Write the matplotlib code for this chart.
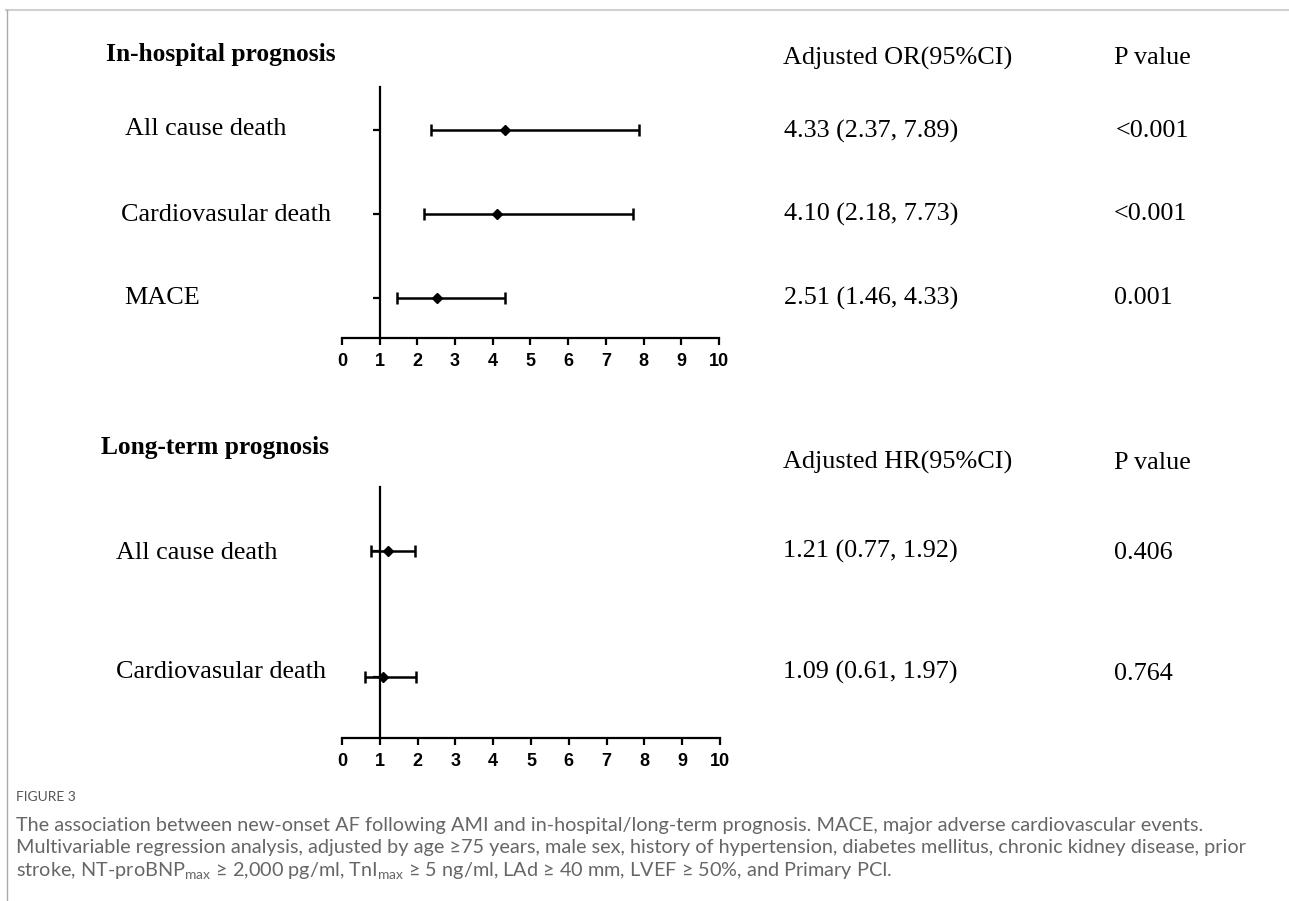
import matplotlib
matplotlib.use('Agg')
import matplotlib.pyplot as plt
from matplotlib.lines import Line2D

# in-hospital prognosis (adjusted OR)
hosp_labels = ['All cause death', 'Cardiovasular death', 'MACE']
hosp_or = [4.33, 4.10, 2.51]
hosp_lo = [2.37, 2.18, 1.46]
hosp_hi = [7.89, 7.73, 4.33]
hosp_p = ['<0.001', '<0.001', '0.001']

# long-term prognosis (adjusted HR)
long_labels = ['All cause death', 'Cardiovasular death']
long_hr = [1.21, 1.09]
long_lo = [0.77, 0.61]
long_hi = [1.92, 1.97]
long_p = ['0.406', '0.764']

xticks = list(range(0, 11))

W, H = 1289, 901
fig = plt.figure(figsize=(W / 100, H / 100), dpi=100)


def px(x, y):
    return x / W, 1 - y / H


def ax_box(x0, x1, ytop, ybot):
    return [x0 / W, 1 - ybot / H, (x1 - x0) / W, (ybot - ytop) / H]


serif = ['Liberation Serif', 'DejaVu Serif']
sans = ['Liberation Sans', 'DejaVu Sans']
cap_font = ['Lato', 'DejaVu Sans']
FS = 18.8


def forest(ax, est, lo, hi, ylim):
    n = len(est)
    ys = list(range(n, 0, -1))
    xerr = [[e - l for e, l in zip(est, lo)], [h - e for e, h in zip(est, hi)]]
    ax.errorbar(est, ys, xerr=xerr, fmt='D', color='black', ms=5,
                elinewidth=1.8, capsize=4, capthick=1.8)
    ax.set_xlim(0, 10)
    ax.set_ylim(*ylim)
    ax.set_xticks(xticks)
    ax.set_yticks(ys)
    ax.set_yticklabels([])
    for s in ['top', 'right']:
        ax.spines[s].set_visible(False)
    ax.spines['left'].set_position(('data', 1))
    ax.spines['left'].set_linewidth(1.6)
    ax.spines['bottom'].set_linewidth(1.6)
    ax.tick_params(axis='both', direction='out', width=1.6, length=5)
    ax.tick_params(axis='x', pad=6)
    for t in ax.get_xticklabels():
        t.set_family(sans)
        t.set_fontweight('bold')
        t.set_fontsize(13)
    ax.patch.set_alpha(0)


ax1 = fig.add_axes(ax_box(342, 719, 87, 338))
forest(ax1, hosp_or, hosp_lo, hosp_hi, (0.524, 3.512))

ax2 = fig.add_axes(ax_box(342, 720, 487, 738))
forest(ax2, long_hr, long_lo, long_hi, (0.516, 2.508))

# section titles
fig.text(*px(106, 54), 'In-hospital prognosis', family=serif, fontweight='bold',
         fontsize=18.4, va='center')
fig.text(*px(101, 448), 'Long-term prognosis', family=serif, fontweight='bold',
         fontsize=18.4, va='center')

# row labels
for lab, x, y in zip(hosp_labels, [125, 121, 124], [129, 215, 298]):
    fig.text(*px(x, y), lab, family=serif, fontsize=FS, va='center')
for lab, x, y in zip(long_labels, [116, 116], [553, 672]):
    fig.text(*px(x, y), lab, family=serif, fontsize=FS, va='center')

# column headers
fig.text(*px(783, 58), 'Adjusted OR(95%CI)', family=serif, fontsize=FS, va='center')
fig.text(*px(1114, 58), 'P value', family=serif, fontsize=FS, va='center')
fig.text(*px(783, 462), 'Adjusted HR(95%CI)', family=serif, fontsize=FS, va='center')
fig.text(*px(1114, 463), 'P value', family=serif, fontsize=FS, va='center')

# values
for e, l, h, p, y, xp in zip(hosp_or, hosp_lo, hosp_hi, hosp_p, [131, 214, 298], [1116, 1114, 1114]):
    fig.text(*px(784, y), f'{e:.2f} ({l:.2f}, {h:.2f})', family=serif, fontsize=FS, va='center')
    fig.text(*px(xp, y), p, family=serif, fontsize=FS, va='center')
for e, l, h, p, y in zip(long_hr, long_lo, long_hi, long_p, [551, 672]):
    fig.text(*px(783, y), f'{e:.2f} ({l:.2f}, {h:.2f})', family=serif, fontsize=FS, va='center')
    fig.text(*px(1114, y + 2), p, family=serif, fontsize=FS, va='center')

# caption
plt.rcParams['mathtext.fontset'] = 'custom'
plt.rcParams['mathtext.rm'] = 'Lato'
fig.text(*px(16, 797), 'FIGURE 3', family=cap_font, fontsize=10, color='#555555', va='center')
cap_lines = [
    'The association between new-onset AF following AMI and in-hospital/long-term prognosis. '
    'MACE, major adverse cardiovascular events.',
    'Multivariable regression analysis, adjusted by age \u226575 years, male sex, history of hypertension, '
    'diabetes mellitus, chronic kidney disease, prior',
    'stroke, NT-proBNP$_{\\mathrm{max}}$ \u2265 2,000 pg/ml, TnI$_{\\mathrm{max}}$ \u2265 5 ng/ml, '
    'LAd \u2265 40 mm, LVEF \u2265 50%, and Primary PCI.',
]
for line, y in zip(cap_lines, [825, 848, 871]):
    fig.text(*px(16, y), line, family=cap_font, fontsize=14.3, color='#666666', va='center')

# page border
fig.add_artist(Line2D([6 / W, 1], [1 - 10 / H, 1 - 10 / H], color='#d0d0d0', lw=1.5,
                      transform=fig.transFigure))
fig.add_artist(Line2D([6.5 / W, 6.5 / W], [0, 1 - 10 / H], color='#aaaaaa', lw=1,
                      transform=fig.transFigure))

fig.savefig('out.png', dpi=100)
